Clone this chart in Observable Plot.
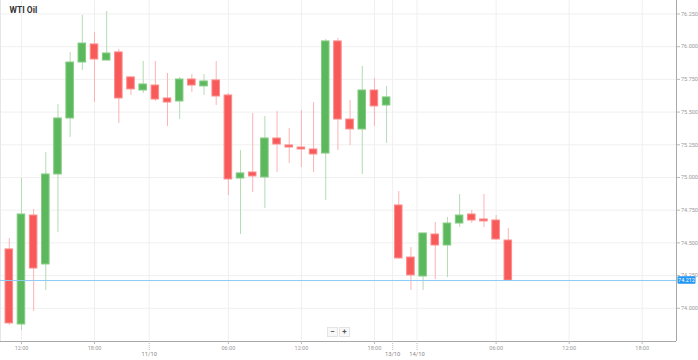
<!DOCTYPE html>
<html><head><meta charset="utf-8">
<script src="https://cdn.jsdelivr.net/npm/d3@7"></script>
<script src="https://cdn.jsdelivr.net/npm/@observablehq/plot@0.6"></script>
<style>
body{margin:0;background:#fff;}
#wrap{position:relative;width:698px;height:360px;}
.btn{position:absolute;top:327px;width:9px;height:8px;border:1px solid #e4e4e4;background:#f8f8f8;color:#555;font:bold 8px/8px Roboto,sans-serif;text-align:center;}
</style></head><body><div id="wrap"></div>
<script>
const title = "WTI Oil";
const openP  = [74.450,73.876,74.709,74.335,75.023,75.451,75.879,76.017,75.894,75.956,75.765,75.665,75.703,75.604,75.581,75.749,75.696,75.742,75.627,74.992,75.038,75.000,75.298,75.245,75.229,75.214,75.183,76.040,75.443,75.367,75.665,75.550,74.786,74.388,74.243,74.564,74.480,74.648,74.717,74.679,74.671,74.518];
const highP  = [74.534,74.992,74.755,75.191,75.558,75.956,76.239,76.109,76.269,75.979,75.765,75.887,75.887,75.795,75.765,75.787,75.787,75.887,75.642,75.206,75.489,75.466,75.505,75.375,75.512,75.573,76.055,76.063,75.589,75.849,75.757,75.696,74.893,74.465,74.572,74.656,74.694,74.870,74.748,74.870,74.709,74.610];
const lowP   = [73.868,73.830,73.976,74.136,74.580,75.306,75.818,75.573,75.894,75.413,75.627,75.642,75.581,75.390,75.443,75.650,75.627,75.550,74.862,74.564,74.885,74.763,75.038,75.107,75.076,75.038,74.824,75.206,75.245,75.023,75.390,75.260,74.373,74.136,74.136,74.220,74.235,74.618,74.648,74.618,74.518,74.212];
const closeP = [73.884,74.717,74.304,75.023,75.451,75.879,76.024,75.902,75.948,75.604,75.673,75.711,75.596,75.573,75.749,75.703,75.734,75.619,74.985,75.031,75.008,75.298,75.252,75.229,75.214,75.176,76.040,75.443,75.367,75.665,75.543,75.612,74.381,74.251,74.572,74.480,74.648,74.709,74.671,74.664,74.526,74.212];
const lastPrice = 74.212;
const yTicks = [74.0,74.25,74.5,74.75,75.0,75.25,75.5,75.75,76.0,76.25];
const timeIdx = [2,8,19,25,31,41,47,53];
const timeLabels = ["12:00","18:00","06:00","12:00","18:00","06:00","12:00","18:00"];
const dateIdx = [12.5,32.5,34.5];
const dateLabels = ["11/10","13/10","14/10"];

const candles = openP.map((o,k)=>({i:k+1, open:o, high:highP[k], low:lowP[k], close:closeP[k], up: closeP[k] >= o}));
const xDomain = [0.277, 55.82];
const yDomain = [73.746, 76.353];
const G = "#5cb85c", R = "#f85a5a";
const GW = "#b3dcb3", RW = "#fbb4b4";
const GS = "#86cc86", RS = "#fb8c8c";

const chart = Plot.plot({
  width: 698, height: 360,
  marginLeft: 0, marginRight: 22, marginTop: 0, marginBottom: 19,
  style: {fontFamily: "Roboto, sans-serif", background: "#fff"},
  x: {type: "linear", domain: xDomain, axis: null, label: null},
  y: {domain: yDomain, axis: null, label: null},
  marks: [
    Plot.gridY(yTicks, {stroke: "#f0f0f0", strokeOpacity: 1}),
    Plot.gridX([...timeIdx, ...dateIdx], {stroke: "#efefef", strokeOpacity: 1}),
    Plot.ruleX([xDomain[0]], {stroke: "#e6e6e6"}),
    Plot.ruleX(candles, {x: "i", y1: "low", y2: "high", stroke: d => d.up ? GW : RW, strokeWidth: 1}),
    Plot.rect(candles, {x1: d => d.i - 0.31, x2: d => d.i + 0.31, y1: "open", y2: "close", fill: d => d.up ? G : R, stroke: d => d.up ? GS : RS, strokeWidth: 1}),
    Plot.ruleY([lastPrice], {stroke: "#8ecbf4", strokeWidth: 1}),
    Plot.ruleY([yDomain[0]], {stroke: "#a8a8a8"}),
    Plot.ruleX([xDomain[1]], {stroke: "#a8a8a8"}),
    Plot.axisY({anchor: "right", label: null, ticks: yTicks, tickFormat: d3.format(".3f"), tickSize: 3, tickPadding: 1.5, fontSize: 5.5, stroke: "#bbb", fill: "#999"}),
    Plot.axisX({anchor: "bottom", label: null, ticks: timeIdx, tickFormat: d => timeLabels[timeIdx.indexOf(d)], tickSize: 3, tickPadding: 1.5, fontSize: 5.5, stroke: "#bbb", fill: "#999"}),
    Plot.axisX({anchor: "bottom", label: null, ticks: dateIdx, tickFormat: d => dateLabels[dateIdx.indexOf(d)], tickSize: 9, tickPadding: 1.5, fontSize: 5.8, stroke: "#bbb", strokeDasharray: "1,1", fill: "#888"}),
    Plot.text([title], {frameAnchor: "top-left", dx: 9, dy: 6, fontSize: 8.5, fontWeight: "bold", fill: "#333", textAnchor: "start", lineAnchor: "top"})
  ]
});
document.getElementById("wrap").appendChild(chart);

// current price tag using the chart's own y scale
const svg = d3.select(chart);
const yP = chart.scale("y").apply(lastPrice);
const xR = chart.scale("x").apply(xDomain[1]);
svg.append("rect").attr("x", xR + 1.5).attr("y", yP - 3.8).attr("width", 18).attr("height", 7.6).attr("rx", 1).attr("fill", "#2196f3");
svg.append("text").attr("x", xR + 10.5).attr("y", yP).attr("dy", "0.35em").attr("text-anchor", "middle")
  .attr("font-size", 5.5).attr("font-family", "Roboto, sans-serif").attr("fill", "#fff").text(lastPrice.toFixed(3));

// zoom buttons
const wrap = document.getElementById("wrap");
[["−", 327], ["+", 339]].forEach(([t, x]) => {
  const b = document.createElement("div");
  b.className = "btn"; b.style.left = x + "px"; b.textContent = t;
  wrap.appendChild(b);
});
</script></body></html>
